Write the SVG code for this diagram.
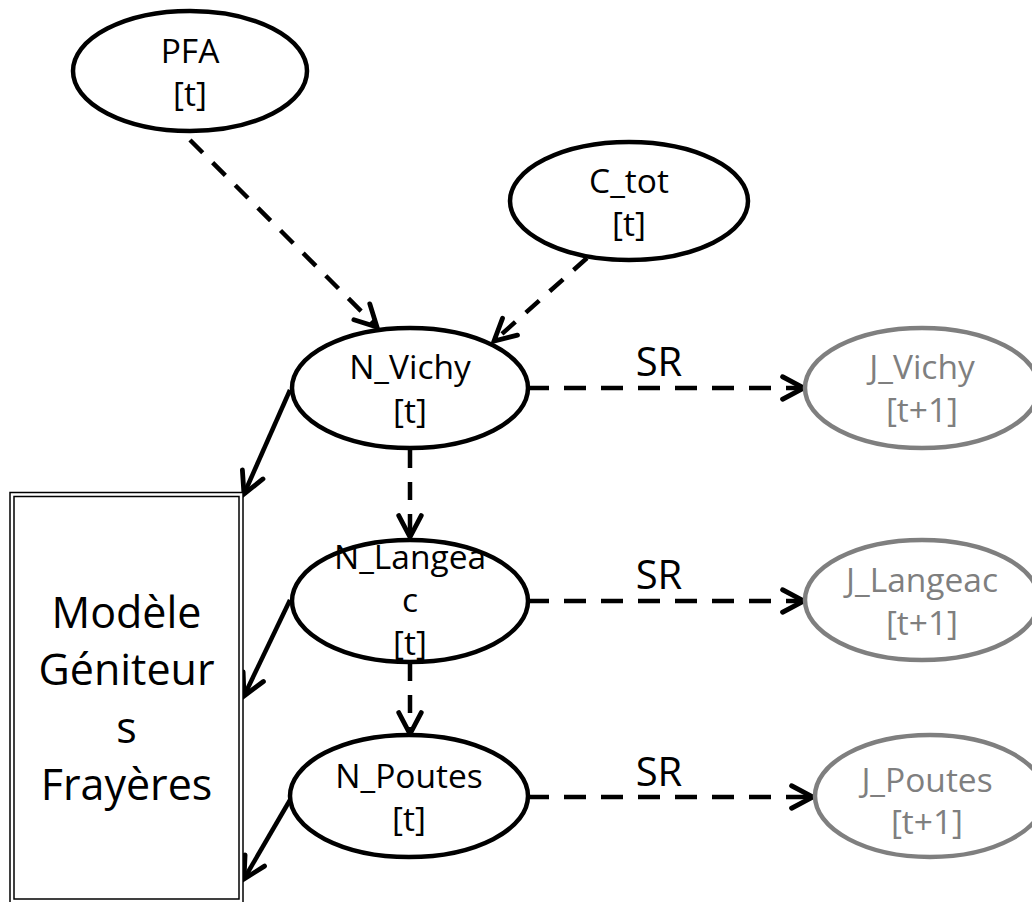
<svg xmlns="http://www.w3.org/2000/svg" width="1032" height="902" viewBox="0 0 1032 902">
<defs>
<style>
.node{fill:#fff;stroke:#000;stroke-width:4.5}
.gnode{fill:#fff;stroke:#7f7f7f;stroke-width:4.5}
.t{font-family:"Open Sans","Liberation Sans",sans-serif;font-size:33.5px;fill:#000;text-anchor:middle}
.gt{font-family:"Open Sans","Liberation Sans",sans-serif;font-size:33.5px;fill:#7f7f7f;text-anchor:middle}
.big{font-family:"Open Sans","Liberation Sans",sans-serif;font-size:43px;fill:#000;text-anchor:middle}
.sr{font-family:"Open Sans","Liberation Sans",sans-serif;font-size:40px;fill:#000;text-anchor:middle}
.dash{fill:none;stroke:#000;stroke-width:4.5;stroke-dasharray:22 15;marker-end:url(#chev)}
.dashd{fill:none;stroke:#000;stroke-width:4.5;stroke-dasharray:18 14;marker-end:url(#chev)}
.solid{fill:none;stroke:#000;stroke-width:4.5;marker-end:url(#chev)}
</style>
<marker id="chev" markerUnits="userSpaceOnUse" markerWidth="30" markerHeight="30" viewBox="-24 -14 28 28" refX="0" refY="0" orient="auto">
<path d="M-20 -10.5 L0 0 L-20 10.5" fill="none" stroke="#000" stroke-width="4.5" stroke-linecap="round" stroke-linejoin="miter" stroke-dasharray="none"/>
</marker>
</defs>

<g id="connectors">
<path class="dashd" d="M190 140 L377 327"/>
<path class="dashd" d="M587 258 L494 341"/>
<path class="dash" d="M527 388 L804 388"/>
<path class="dash" d="M527 601 L804 601"/>
<path class="dash" d="M527 797 L813 797"/>
<path class="dashd" d="M410 450 L410 537"/>
<path class="dashd" d="M410 663 L410 734"/>
<path class="solid" d="M290 390 L244 494"/>
<path class="solid" d="M290 600 L244 696"/>
<path class="solid" d="M290 800 L244 879"/>
<text class="sr" x="659" y="376">SR</text>
<text class="sr" x="659" y="589">SR</text>
<text class="sr" x="659" y="786">SR</text>
</g>

<g id="pfa">
<ellipse class="node" cx="190" cy="71" rx="117" ry="60"/>
<text class="t" x="190" y="63">PFA</text>
<text class="t" x="190" y="106">[t]</text>
</g>

<g id="c_tot">
<ellipse class="node" cx="629" cy="201" rx="119" ry="59"/>
<text class="t" x="629" y="193">C_tot</text>
<text class="t" x="629" y="236">[t]</text>
</g>

<g id="n_vichy">
<ellipse class="node" cx="410" cy="388" rx="118" ry="60"/>
<text class="t" x="410" y="379">N_Vichy</text>
<text class="t" x="410" y="423">[t]</text>
</g>

<g id="n_langeac">
<ellipse class="node" cx="410" cy="601" rx="118" ry="61"/>
<text class="t" x="410" y="569">N_Langea</text>
<text class="t" x="410" y="612">c</text>
<text class="t" x="410" y="655">[t]</text>
</g>

<g id="n_poutes">
<ellipse class="node" cx="409" cy="796" rx="119" ry="61"/>
<text class="t" x="409" y="788">N_Poutes</text>
<text class="t" x="409" y="831">[t]</text>
</g>

<g id="j_vichy">
<ellipse class="gnode" cx="922" cy="388" rx="117" ry="60"/>
<text class="gt" x="922" y="379">J_Vichy</text>
<text class="gt" x="922" y="422">[t+1]</text>
</g>

<g id="j_langeac">
<ellipse class="gnode" cx="922" cy="600" rx="117" ry="60"/>
<text class="gt" x="922" y="592">J_Langeac</text>
<text class="gt" x="922" y="635">[t+1]</text>
</g>

<g id="j_poutes">
<ellipse class="gnode" cx="930" cy="796" rx="115" ry="61"/>
<text class="gt" x="927" y="792">J_Poutes</text>
<text class="gt" x="927" y="834">[t+1]</text>
</g>

<g id="modele">
<rect x="10" y="492.5" width="233" height="412" fill="#fff" stroke="#000" stroke-width="1.5"/>
<rect x="14" y="496.5" width="225" height="402.5" fill="none" stroke="#000" stroke-width="1.5"/>
<text class="big" x="126.5" y="628">Modèle</text>
<text class="big" x="126.5" y="685">Géniteur</text>
<text class="big" x="126.5" y="743">s</text>
<text class="big" x="126.5" y="800">Frayères</text>
</g>
</svg>
